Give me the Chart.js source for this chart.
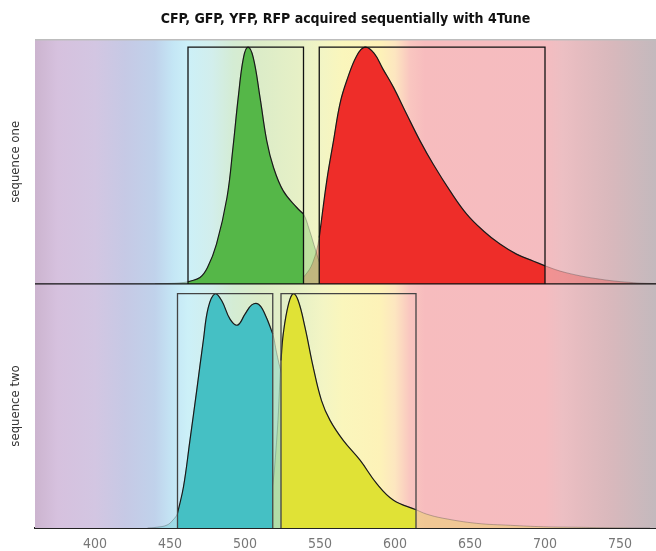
<!DOCTYPE html>
<html>
<head>
<meta charset="utf-8">
<script src="https://cdn.jsdelivr.net/npm/chart.js@4.4.1/dist/chart.umd.min.js"></script>
<style>
    body { margin: 0; background: #fff; }
    #wrap { width: 656px; height: 551px; }
</style>
</head>
<body>
<div id="wrap"><canvas id="chartCanvas"></canvas></div>
<script>
// wavelengths (nm) and relative emission
var gfpWl  = [440, 450, 456, 462, 470, 475, 481, 488, 492, 495.5, 499, 502, 505.5, 510, 514.5, 519, 525.5, 534.5, 539, 543, 547, 551, 556, 565, 580];
var gfpVal = [0, 0.2, 0.4, 0.9, 2.6, 6.7, 16.3, 35.4, 55.9, 76.4, 92.7, 97, 92.7, 76.4, 58.6, 47.7, 38.1, 31.3, 28.6, 22, 14, 7, 3, 0.5, 0];

var rfpWl  = [530, 536, 540, 545, 549.5, 554.5, 559, 563.3, 567.8, 574.5, 580, 586, 592, 599, 607.8, 616.7, 625.5, 636.7, 647.8, 659, 670, 681, 692, 700, 714, 737, 759, 774];
var rfpVal = [0, 1.5, 3.5, 8.5, 19, 42.2, 58.6, 73.8, 83.2, 93.5, 97, 94.5, 88, 80.5, 69.5, 58.6, 49, 38.1, 28.6, 21.7, 16.3, 12.2, 9.4, 7.4, 4.6, 1.9, 0.5, 0.1];

var cfpWl  = [435, 441, 448, 452, 455, 459, 463.3, 467.8, 472.2, 475.5, 480, 484.5, 490, 495, 500, 504.5, 509, 513.3, 518.5, 521, 524, 530, 540, 555, 575, 600];
var cfpVal = [0, 0.3, 1.2, 3.3, 6, 16.9, 35.9, 56.3, 76.7, 90.3, 96, 93.1, 85.6, 83.1, 87.6, 91.4, 91.7, 87.6, 79.5, 72, 64, 50, 35, 22, 10, 0];

var yfpWl  = [505, 512, 517, 521, 524, 525.5, 529, 532.2, 535.5, 540, 545.5, 551, 556.7, 565.5, 576.7, 587.8, 599, 614, 621, 632, 654.5, 677, 699, 721, 743, 770];
var yfpVal = [0, 3, 12, 35, 68.6, 79.5, 91.7, 96, 93.1, 82.2, 65.8, 52.2, 44.1, 35.9, 27.8, 18.2, 11.4, 7.5, 5.7, 4.0, 1.9, 1.1, 0.5, 0.3, 0.1, 0];

// detection windows [from, to, top]
var gfpBox = [462, 539, 97];
var rfpBox = [549.5, 700, 97];
var cfpBox = [455, 518.5, 96];
var yfpBox = [524, 614, 96];

var xTicks = [400, 450, 500, 550, 600, 650, 700, 750];
var panelTitles = ['sequence one', 'sequence two'];

// spectrum backdrop
var bgWl = [360, 375, 400, 420, 440, 452, 462, 478, 492, 510, 535, 552, 565, 590, 600, 610, 620, 700, 712, 722, 745, 774];
var bgColors = ['#ccb4cf', '#d6c1de', '#d3c6e2', '#c6c9e5', '#c0d2eb', '#c4e6f5', '#ccf0f8', '#d2eeec', '#d4ecd4', '#dcecc8', '#e6f0c6', '#f3f5c4', '#faf6bc', '#fdf2b8', '#fde6c0', '#f9c6c0', '#f7bcbe', '#f5bcc0', '#ecbfc3', '#e6bcc0', '#d8b8bc', '#c3b9bd'];

var narrow = "'Liberation Sans Narrow', 'DejaVu Sans Condensed', 'Arial Narrow', sans-serif";

function points(wl, val, from, to) {
    var out = [];
    for (var i = 0; i < wl.length; i++) {
        if (from === undefined || (wl[i] >= from && wl[i] <= to)) {
            out.push({x: wl[i], y: val[i]});
        }
    }
    return out;
}

function tail(wl, val, rgb, axis) {
    return {
        data: points(wl, val),
        yAxisID: axis,
        fill: 'origin',
        backgroundColor: 'rgba(' + rgb + ',0.3)',
        borderColor: 'rgba(70,70,70,0.35)',
        borderWidth: 1,
        tension: 0.4,
        pointRadius: 0,
        order: 3
    };
}

function solid(wl, val, box, rgb, axis) {
    return {
        data: points(wl, val, box[0], box[1]),
        yAxisID: axis,
        fill: 'origin',
        backgroundColor: 'rgb(' + rgb + ')',
        borderColor: '#1a1a1a',
        borderWidth: 1.2,
        tension: 0.4,
        pointRadius: 0,
        order: 2
    };
}

function frame(box, axis, color) {
    return {
        data: [{x: box[0], y: 0}, {x: box[0], y: box[2]}, {x: box[1], y: box[2]}, {x: box[1], y: 0}],
        yAxisID: axis,
        fill: false,
        borderColor: color,
        borderWidth: 1.3,
        tension: 0,
        pointRadius: 0,
        order: 1
    };
}

var backdrop = {
    id: 'backdrop',
    beforeDatasetsDraw: function (chart) {
        var ctx = chart.ctx, a = chart.chartArea, x = chart.scales.x;
        var g = ctx.createLinearGradient(a.left, 0, a.right, 0);
        for (var i = 0; i < bgWl.length; i++) {
            var p = (x.getPixelForValue(bgWl[i]) - a.left) / (a.right - a.left);
            g.addColorStop(Math.min(1, Math.max(0, p)), bgColors[i]);
        }
        ctx.save();
        ctx.fillStyle = g;
        ctx.fillRect(a.left, a.top, a.right - a.left, a.bottom - a.top);
        ctx.restore();
    },
    afterDatasetsDraw: function (chart) {
        var ctx = chart.ctx, a = chart.chartArea;
        var mid = chart.scales.y1.bottom;
        ctx.save();
        ctx.strokeStyle = '#bdbdbd';
        ctx.lineWidth = 1.5;
        ctx.beginPath();
        ctx.moveTo(a.left, a.top);
        ctx.lineTo(a.right, a.top);
        ctx.stroke();
        ctx.strokeStyle = '#111';
        ctx.lineWidth = 1.2;
        ctx.beginPath();
        ctx.moveTo(a.left, mid);
        ctx.lineTo(a.right, mid);
        ctx.stroke();
        ctx.restore();
    }
};

function yAxis(title) {
    return {
        type: 'linear',
        position: 'left',
        stack: 'seq',
        stackWeight: 1,
        min: 0,
        max: 100,
        grid: {display: false, drawTicks: false},
        border: {display: false},
        ticks: {display: false},
        title: {display: true, text: title, color: '#333', font: {family: narrow, size: 13}, padding: {top: 8, bottom: 0}},
        afterFit: function (scale) { scale.width = 35; }
    };
}

var ctx = document.getElementById('chartCanvas').getContext('2d');
var myChart = new Chart(ctx, {
    type: 'line',
    data: {
        datasets: [
            frame(gfpBox, 'y1', '#111'),
            frame(rfpBox, 'y1', '#111'),
            frame(cfpBox, 'y2', '#444'),
            frame(yfpBox, 'y2', '#444'),
            solid(gfpWl, gfpVal, gfpBox, '85,183,72', 'y1'),
            solid(rfpWl, rfpVal, rfpBox, '238,45,41', 'y1'),
            solid(cfpWl, cfpVal, cfpBox, '69,192,196', 'y2'),
            solid(yfpWl, yfpVal, yfpBox, '224,226,54', 'y2'),
            tail(gfpWl, gfpVal, '85,183,72', 'y1'),
            tail(rfpWl, rfpVal, '238,45,41', 'y1'),
            tail(cfpWl, cfpVal, '69,192,196', 'y2'),
            tail(yfpWl, yfpVal, '224,226,54', 'y2')
        ]
    },
    options: {
        responsive: true,
        maintainAspectRatio: false,
        animation: false,
        layout: {padding: 0},
        scales: {
            x: {
                type: 'linear',
                min: 360,
                max: 774,
                grid: {display: false, drawTicks: false},
                border: {display: true, color: '#222', width: 2},
                ticks: {color: '#777', font: {family: narrow, size: 14}, padding: 8, autoSkip: false},
                afterBuildTicks: function (scale) {
                    scale.ticks = xTicks.map(function (v) { return {value: v}; });
                },
                afterFit: function (scale) { scale.height = 23; }
            },
            y2: yAxis(panelTitles[1]),
            y1: yAxis(panelTitles[0])
        },
        plugins: {
            legend: {display: false},
            tooltip: {enabled: false},
            title: {
                display: true,
                fullSize: false,
                text: 'CFP, GFP, YFP, RFP acquired sequentially with 4Tune',
                color: '#111',
                font: {family: narrow, size: 14, weight: 'bold'},
                padding: {top: 11, bottom: 12}
            }
        }
    },
    plugins: [backdrop]
});
</script>
</body>
</html>
